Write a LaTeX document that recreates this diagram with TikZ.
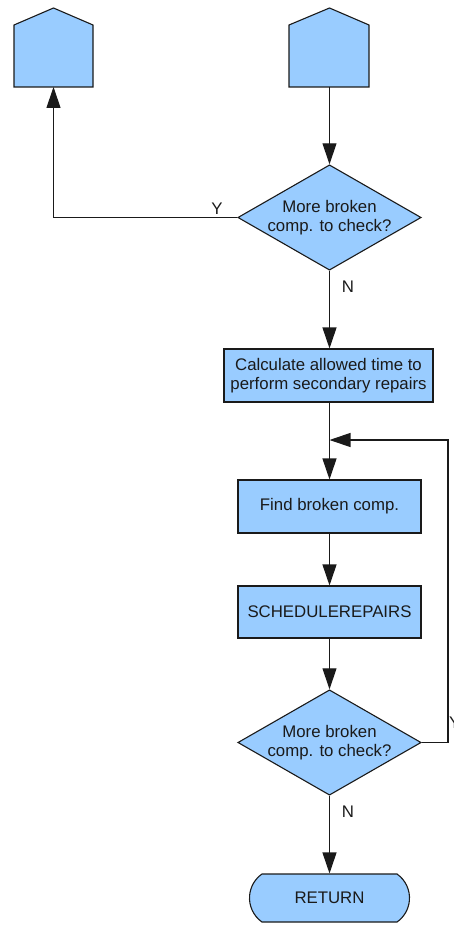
\documentclass[tikz,border=0pt]{standalone}
\usepackage{fontspec}
\setmainfont{Liberation Sans}
\usetikzlibrary{arrows.meta,shapes.geometric,shapes.misc}
\definecolor{boxblue}{HTML}{99CCFF}
\definecolor{inkline}{HTML}{1A1A1A}
\begin{document}
\begin{tikzpicture}[x=1pt,y=-1pt,
  every node/.style={font=\fontsize{16.8}{18.5}\selectfont, text=inkline},
  procbox/.style={draw=inkline, fill=boxblue, line width=1.1pt, rectangle,
    inner sep=0pt, align=center},
  decision/.style={draw=inkline, fill=boxblue, line width=1.1pt, diamond,
    aspect=1.74, inner sep=0pt, minimum width=183pt, minimum height=105pt, align=center},
  terminal/.style={draw=inkline, fill=boxblue, line width=1.1pt, rounded rectangle,
    rounded rectangle arc length=110, inner sep=0pt, minimum width=160pt, minimum height=48pt},
  offpage/.style={draw=inkline, fill=boxblue, line width=1.1pt, line join=miter},
  flow/.style={draw=inkline, line width=1.1pt, -{Triangle[length=21pt,width=14pt]}},
  wire/.style={draw=inkline, line width=1.1pt}]
\useasboundingbox (0,0) rectangle (453,925);

% off-page connectors at the top
\draw[offpage] (14,87) -- (14,25) -- (53.5,8) -- (93,25) -- (93,87) -- cycle;
\coordinate (offL) at (53.5,87);
\draw[offpage] (289,87) -- (289,25) -- (329.5,8) -- (369,25) -- (369,87) -- cycle;
\coordinate (offR) at (329.5,87);

% main column
\node[decision] (q1) at (329.5,217.5) {More broken\\comp. to check?};
\node[procbox, minimum width=209pt, minimum height=53pt] (calc) at (328.5,375.5)
  {Calculate allowed time to\\perform secondary repairs};
\node[procbox, minimum width=183pt, minimum height=53pt] (find) at (329.5,506.5) {Find broken comp.};
\node[procbox, minimum width=183pt, minimum height=52pt] (sched) at (329.5,612) {SCHEDULEREPAIRS};
\node[decision] (q2) at (329.5,742.5) {More broken\\comp. to check?};
\node[terminal] (ret) at (329.5,898) {RETURN};

% connectors
\draw[flow] (offR) -- (q1.north);
\draw[flow] (q1.west) -| (offL);
\draw[flow] (q1.south) -- (q1.south |- calc.north);
\coordinate (join) at (329.5,440);
\draw[flow] (join |- calc.south) -- (find.north);
\draw[flow] (find.south) -- (sched.north);
\draw[flow] (sched.south) -- (q2.north);
\draw[flow] (q2.south) -- (ret.north);
\coordinate (loopR) at (448,440);
\draw[flow] (q2.east) -| (loopR) -- (join);

% branch labels
\node (y1) at (217,209) {Y};
\node (n1) at (348,287) {N};
\node (n2) at (348,812) {N};
\node[anchor=west, inner sep=0pt] (y2) at (449,723) {Y};
\end{tikzpicture}
\end{document}
